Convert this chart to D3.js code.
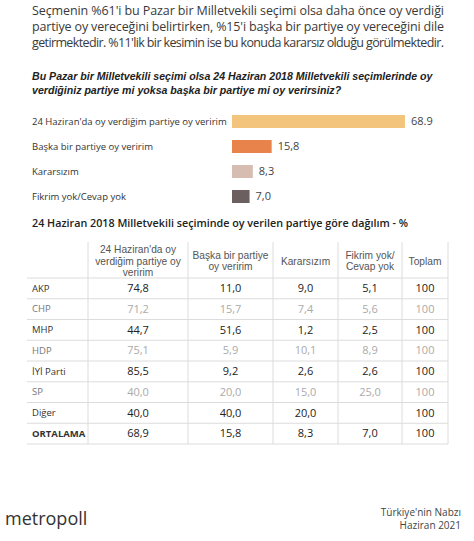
<!DOCTYPE html>
<html><head><meta charset="utf-8">
<script src="https://cdn.jsdelivr.net/npm/d3@7"></script>
<style>html,body{margin:0;padding:0;background:#fff;}svg{display:block;}</style>
</head><body>
<script>
// ---- data ----
const introLines = [
  "Seçmenin %61'i bu Pazar bir Milletvekili seçimi olsa daha önce oy verdiği",
  "partiye oy vereceğini belirtirken, %15'i başka bir partiye oy vereceğini dile",
  "getirmektedir. %11'lik bir kesimin ise bu konuda kararsız olduğu görülmektedir."
];
const questionLines = [
  "Bu Pazar bir Milletvekili seçimi olsa 24 Haziran 2018 Milletvekili seçimlerinde oy",
  "verdiğiniz partiye mi yoksa başka bir partiye mi oy verirsiniz?"
];
const barCategories = ["24 Haziran'da oy verdiğim partiye oy veririm","Başka bir partiye oy veririm","Kararsızım","Fikrim yok/Cevap yok"];
const barValues = [68.9, 15.8, 8.3, 7.0];
const barValueLabels = ["68.9","15,8","8,3","7,0"];
const barColors = ["#f3c57c","#e8844b","#d6bcb1","#6b5f5f"];

const tableTitle = "24 Haziran 2018 Milletvekili seçiminde oy verilen partiye göre dağılım - %";
const tableColumns = [["24 Haziran'da oy","verdiğim partiye oy","veririm"],["Başka bir partiye","oy veririm"],["Kararsızım"],["Fikrim yok/","Cevap yok"],["Toplam"]];
const parties = ["AKP","CHP","MHP","HDP","İYİ Parti","SP","Diğer","ORTALAMA"];
const colSame = ["74,8","71,2","44,7","75,1","85,5","40,0","40,0","68,9"];
const colOther = ["11,0","15,7","51,6","5,9","9,2","20,0","40,0","15,8"];
const colUndecided = ["9,0","7,4","1,2","10,1","2,6","15,0","20,0","8,3"];
const colNoAnswer = ["5,1","5,6","2,5","8,9","2,6","25,0","","7,0"];
const colTotal = ["100","100","100","100","100","100","100","100"];
const mutedRows = ["CHP","HDP","SP"];

const brand = "metropoll";
const sourceLines = ["Türkiye'nin Nabzı","Haziran 2021"];

// ---- drawing ----
const W = 474, H = 541;
const svg = d3.select("body").append("svg").attr("width", W).attr("height", H);
const sans = "'Open Sans', 'DejaVu Sans', sans-serif";
const arial = "'Liberation Sans', Arial, sans-serif";

// intro paragraph (justified)
svg.append("g").selectAll("text").data(introLines).join("text")
  .attr("x", 32).attr("y", (d,i) => 15 + i*16)
  .attr("textLength", 412).attr("lengthAdjust", "spacing")
  .attr("font-family", sans).attr("font-size", 12.5).attr("fill", "#3a3a3a")
  .text(d => d);

// question
svg.append("g").selectAll("text").data(questionLines).join("text")
  .attr("x", 32).attr("y", (d,i) => 80 + i*14)
  .attr("font-family", arial).attr("font-size", 10.6).attr("font-style", "italic").attr("font-weight", "bold")
  .attr("fill", "#222")
  .text(d => d);

// bar chart
const x = d3.scaleLinear().domain([0, 100]).range([0, 251]);
const y = d3.scaleBand().domain(barCategories).range([115, 203]).paddingInner(0.48).paddingOuter(0);
const barX = 232;
const bars = svg.append("g");
bars.selectAll("rect").data(barCategories).join("rect")
  .attr("x", barX).attr("y", d => y(d))
  .attr("width", (d,i) => x(barValues[i])).attr("height", y.bandwidth())
  .attr("fill", (d,i) => barColors[i]);
bars.selectAll("text.cat").data(barCategories).join("text").attr("class","cat")
  .attr("x", 32).attr("y", d => y(d) + y.bandwidth()/2).attr("dy", "0.35em")
  .attr("font-family", sans).attr("font-size", 9.5).attr("fill", "#333")
  .text(d => d);
bars.selectAll("text.val").data(barCategories).join("text").attr("class","val")
  .attr("x", (d,i) => barX + x(barValues[i]) + 6).attr("y", d => y(d) + y.bandwidth()/2).attr("dy", "0.35em")
  .attr("font-family", sans).attr("font-size", 11).attr("fill", "#444")
  .text((d,i) => barValueLabels[i]);

// table title
svg.append("text").attr("x", 32).attr("y", 227)
  .attr("textLength", 376).attr("lengthAdjust", "spacingAndGlyphs")
  .attr("font-family", sans).attr("font-size", 11.5).attr("font-weight", 600).attr("fill", "#222")
  .text(tableTitle);

// table
const colEdges = [27, 88, 188, 273, 338, 402, 448];
const tableCols = [colSame, colOther, colUndecided, colNoAnswer, colTotal];
const headerTop = 242, headerBottom = 278, tableBottom = 444;
const rowY = d3.scaleBand().domain(parties).range([headerBottom, tableBottom]);
const tbl = svg.append("g");
const lineColor = "#dcdcdc";
// horizontal lines
tbl.selectAll("line.h").data(parties).join("line").attr("class","h")
  .attr("x1", colEdges[0]).attr("x2", colEdges[6])
  .attr("y1", d => rowY(d) + rowY.bandwidth()).attr("y2", d => rowY(d) + rowY.bandwidth())
  .attr("stroke", lineColor).attr("stroke-width", 1);
tbl.append("line").attr("x1", colEdges[0]).attr("x2", colEdges[6]).attr("y1", headerBottom).attr("y2", headerBottom)
  .attr("stroke", lineColor);
// vertical lines
tbl.selectAll("line.v").data(colEdges.slice(1)).join("line").attr("class","v")
  .attr("x1", d => d).attr("x2", d => d).attr("y1", headerTop).attr("y2", tableBottom)
  .attr("stroke", lineColor).attr("stroke-width", 1);
// header
tableColumns.forEach((lines, ci) => {
  const cx = (colEdges[ci+1] + colEdges[ci+2]) / 2;
  const mid = (headerTop + headerBottom) / 2 + 1;
  tbl.append("g").selectAll("text").data(lines).join("text")
    .attr("x", cx).attr("y", (d,i) => mid + (i - (lines.length-1)/2) * 11.5)
    .attr("dy", "0.35em").attr("text-anchor", "middle")
    .attr("font-family", arial).attr("font-size", 10.2).attr("fill", "#555")
    .text(d => d);
});
// row labels
tbl.selectAll("text.party").data(parties).join("text").attr("class","party")
  .attr("x", 32).attr("y", d => rowY(d) + rowY.bandwidth()/2).attr("dy", "0.35em")
  .attr("font-family", sans).attr("font-size", 9.5)
  .attr("font-weight", d => d === "ORTALAMA" ? 700 : 400)
  .attr("fill", d => mutedRows.includes(d) ? "#777" : "#333")
  .text(d => d);
// values
tableCols.forEach((vals, ci) => {
  const cx = (colEdges[ci+1] + colEdges[ci+2]) / 2;
  tbl.append("g").selectAll("text").data(parties).join("text")
    .attr("x", cx).attr("y", d => rowY(d) + rowY.bandwidth()/2).attr("dy", "0.35em")
    .attr("text-anchor", "middle")
    .attr("font-family", sans).attr("font-size", 11)
    .attr("fill", d => mutedRows.includes(d) ? "#aaa" : "#222")
    .text((d,i) => vals[i]);
});

// footer
svg.append("text").attr("x", 5).attr("y", 525)
  .attr("font-family", sans).attr("font-size", 18).attr("fill", "#333")
  .text(brand);
svg.append("g").selectAll("text").data(sourceLines).join("text")
  .attr("x", 461).attr("y", (d,i) => 516 + i*13).attr("text-anchor", "end")
  .attr("font-family", sans).attr("font-size", 10).attr("fill", "#444")
  .text(d => d);
</script>
</body></html>
